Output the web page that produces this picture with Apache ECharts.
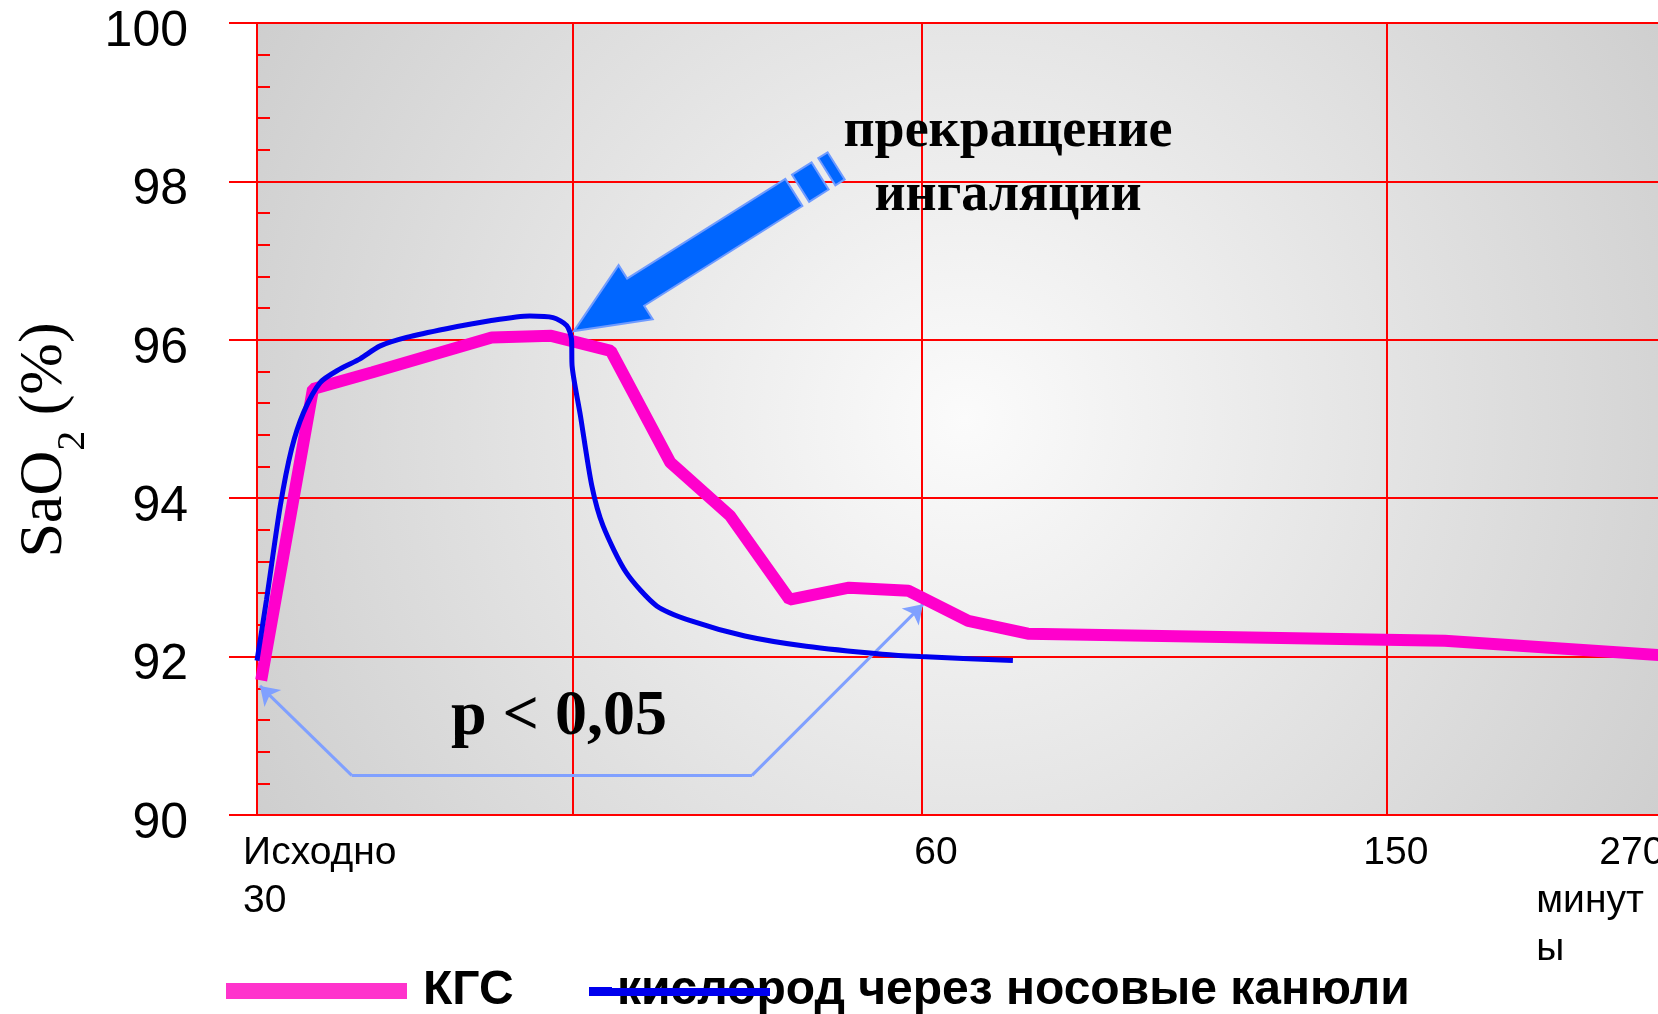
<!DOCTYPE html>
<html>
<head>
<meta charset="utf-8">
<title>SaO2</title>
<script src="https://cdn.jsdelivr.net/npm/echarts@6/dist/echarts.min.js"></script>
<style>
  html, body { margin: 0; padding: 0; background: #fff; }
  #chart { width: 1658px; height: 1014px; }
</style>
</head>
<body>
<div id="chart"></div>
<script>
// y scale
const yMin = 90
const yMax = 100
const yStep = 2
// x is just the step position along the slide axis
const xMin = 0.06
const xMax = 23.58
const gridLineX = [5.36, 11.22, 19.03]
const xLabelPos = [1.17, 11.46, 19.18, 22.88]
const xLabelText = ['Исходно\n30', '60', '150', '270\nминут\nы']

// КГС
const kgsX = [0.13, 1, 2, 4, 5, 6, 7, 8, 9, 10, 11, 12, 13, 20, 24]
const kgsY = [91.7, 95.38, 95.59, 96.03, 96.05, 95.86, 94.45, 93.78, 92.72, 92.87, 92.83, 92.45, 92.29, 92.2, 92.0]

// кислород через носовые канюли
const o2X = [0.06, 0.22, 0.45, 0.64, 0.84, 1.12, 1.45, 1.79, 2.12, 2.57, 3.24, 3.97, 4.64, 5.03, 5.26, 5.34, 5.35, 5.49, 5.68, 5.87, 6.26, 6.77, 7.35, 8.25, 9.28, 10.56, 11.2, 12.75]
const o2Y = [91.95, 92.72, 93.9, 94.62, 95.08, 95.46, 95.63, 95.76, 95.92, 96.03, 96.14, 96.24, 96.3, 96.28, 96.18, 96.01, 95.67, 95.04, 94.16, 93.65, 93.06, 92.64, 92.45, 92.26, 92.13, 92.03, 92.0, 91.95]

// p < 0,05 connector
const pathX = [0.11, 1.65, 8.37, 11.24]
const pathY = [91.63, 90.5, 90.5, 92.66]
const arrowTip = [5.38, 96.11]

const red = '#ff0000'
const sans = 'Liberation Sans, Arial, sans-serif'
const serif = 'Liberation Serif, Times New Roman, serif'

const pairs = (xs, ys) => xs.map((x, i) => [x, ys[i]])

// multi-line labels: lines left aligned inside a fixed-width box,
// the "270" line of the last label sits a bit to the right
const xLabelFormat = (v) => {
  const i = xLabelPos.findIndex((p) => Math.abs(p - v) < 1e-6)
  if (i < 0) return ''
  const t = xLabelText[i]
  if (t.indexOf('\n') < 0) return t
  return t.split('\n').map((l, k) => {
    const style = (i === xLabelText.length - 1 && k === 0) ? 'f' : 't'
    return `{${style}|${l}}`
  }).join('\n')
}

const option = {
  animation: false,
  grid: {
    left: 257,
    top: 23,
    right: 0,
    bottom: 199,
    outerBoundsMode: 'none',
    containLabel: false,
    show: true,
    borderWidth: 0,
    backgroundColor: {
      type: 'radial', x: 0.505, y: 0.5, r: 1.1,
      colorStops: [
        { offset: 0, color: '#fbfbfb' },
        { offset: 1, color: '#cbcbcb' },
      ],
    },
  },
  legend: [
    {
      data: ['КГС'],
      left: 226,
      top: 965,
      padding: 0,
      selectedMode: false,
      icon: 'rect',
      itemWidth: 181,
      itemHeight: 16,
      itemStyle: { color: '#ff33cc' },
      textStyle: { fontFamily: sans, fontWeight: 'bold', fontSize: 48, lineHeight: 52, color: '#000', padding: [0, 0, 0, 11] },
    },
    {
      data: ['кислород через носовые канюли'],
      left: 589,
      top: 965,
      padding: 0,
      selectedMode: false,
      icon: 'rect',
      itemWidth: 23,
      itemHeight: 8,
      itemStyle: { color: '#0000ee' },
      textStyle: { fontFamily: sans, fontWeight: 'bold', fontSize: 48, lineHeight: 52, color: '#000' },
    },
  ],
  xAxis: {
    type: 'value',
    min: xMin,
    max: xMax,
    axisLine: { lineStyle: { color: red, width: 2 } },
    axisTick: { show: false },
    splitLine: { show: false },
    axisLabel: {
      customValues: xLabelPos,
      formatter: xLabelFormat,
      hideOverlap: false,
      showMinLabel: true,
      showMaxLabel: true,
      fontFamily: sans,
      fontSize: 39,
      lineHeight: 48,
      margin: 14,
      color: '#000',
      rich: {
        t: { fontFamily: sans, fontSize: 39, lineHeight: 48, width: 160, align: 'left', color: '#000' },
        f: { fontFamily: sans, fontSize: 39, lineHeight: 48, width: 97, padding: [0, 0, 0, 63], align: 'left', color: '#000' },
      },
    },
  },
  yAxis: [
    {
      type: 'value',
      min: yMin,
      max: yMax,
      interval: yStep,
      name: '{a|SaO}{b|2}{a| (%)}',
      nameLocation: 'middle',
      nameRotate: 90,
      nameGap: 165,
      nameTextStyle: {
        padding: [0, 42, 0, 0],
        rich: {
          a: { fontFamily: serif, fontSize: 62, lineHeight: 62, verticalAlign: 'top', color: '#000' },
          b: { fontFamily: serif, fontSize: 40, lineHeight: 40, verticalAlign: 'top', padding: [40, 0, 0, 0], color: '#000' },
        },
      },
      axisLine: { show: true, lineStyle: { color: red, width: 2 } },
      axisTick: { show: true, inside: false, length: 28, lineStyle: { color: red, width: 2 } },
      axisLabel: {
        margin: 69,
        formatter: (v) => `{v|${v}}`,
        rich: {
          v: { fontFamily: sans, fontSize: 50, color: '#000', padding: [18, 0, 0, 0] },
        },
      },
      splitLine: { show: true, lineStyle: { color: red, width: 2 } },
    },
    {
      // inner ticks (major + minor)
      type: 'value',
      min: yMin,
      max: yMax,
      interval: yStep,
      position: 'left',
      axisLine: { show: false },
      axisLabel: { show: false },
      splitLine: { show: false },
      axisTick: { show: true, inside: true, length: 26, lineStyle: { color: red, width: 2 } },
      minorTick: { show: true, splitNumber: 5, length: 13, lineStyle: { color: red, width: 2 } },
    },
  ],
  series: [
    {
      name: 'grid',
      type: 'line',
      data: [],
      silent: true,
      markLine: {
        silent: true,
        z: 1,
        symbol: 'none',
        label: { show: false },
        lineStyle: { color: red, width: 2, type: 'solid' },
        data: gridLineX.map((v) => ({ xAxis: v })),
      },
    },
    {
      name: 'p',
      type: 'line',
      data: [],
      silent: true,
      markLine: {
        silent: true,
        z: 3,
        symbol: ['none', 'arrow'],
        symbolSize: 18,
        label: { show: false },
        lineStyle: { color: '#80a0ff', width: 3, type: 'solid' },
        data: [
          [{ coord: [pathX[1], pathY[1]] }, { coord: [pathX[0], pathY[0]] }],
          [{ coord: [pathX[1], pathY[1]], symbol: 'none' }, { coord: [pathX[2], pathY[2]], symbol: 'none' }],
          [{ coord: [pathX[2], pathY[2]] }, { coord: [pathX[3], pathY[3]] }],
        ],
      },
    },
    {
      name: 'КГС',
      type: 'line',
      z: 6,
      data: pairs(kgsX, kgsY),
      showSymbol: false,
      lineStyle: { color: '#ff00cc', width: 12 },
      itemStyle: { color: '#ff00cc' },
    },
    {
      name: 'кислород через носовые канюли',
      type: 'line',
      z: 7,
      data: pairs(o2X, o2Y),
      showSymbol: false,
      smooth: 0.25,
      lineStyle: { color: '#0000ee', width: 5 },
      itemStyle: { color: '#0000ee' },
    },
  ],
}

const chart = echarts.init(document.getElementById('chart'))
chart.setOption(option)

// block arrow pointing at the moment inhalation stops
const tip = chart.convertToPixel({ gridIndex: 0 }, arrowTip)
const u = [0.846, -0.533]
const n = [0.533, 0.846]
const P = (a, p) => [tip[0] + a * u[0] + p * n[0], tip[1] + a * u[1] + p * n[1]]
const arrowStyle = { fill: '#0066ff', stroke: '#6f9bff', lineWidth: 2 }

chart.setOption({
  graphic: [
    {
      type: 'polygon', z: 50,
      shape: { points: [P(0, 0), P(73, -32), P(73, -16), P(260, -16), P(260, 16), P(73, 16), P(73, 32)] },
      style: arrowStyle,
    },
    {
      type: 'polygon', z: 50,
      shape: { points: [P(268, -16), P(291, -16), P(291, 16), P(268, 16)] },
      style: arrowStyle,
    },
    {
      type: 'polygon', z: 50,
      shape: { points: [P(299, -16), P(310, -16), P(310, 16), P(299, 16)] },
      style: arrowStyle,
    },
    {
      type: 'text', z: 60, x: 1008, y: 164,
      style: {
        text: 'прекращение\nингаляции',
        fontFamily: serif, fontWeight: 'bold', fontSize: 54, lineHeight: 64,
        fill: '#000', align: 'center', verticalAlign: 'middle',
      },
    },
    {
      type: 'text', z: 60, x: 559, y: 717,
      style: {
        text: 'p < 0,05',
        fontFamily: serif, fontWeight: 'bold', fontSize: 64,
        fill: '#000', align: 'center', verticalAlign: 'middle',
      },
    },
    {
      // legend line of the second series runs over its text
      type: 'rect', z: 100,
      shape: { x: 589, y: 988, width: 181, height: 8 },
      style: { fill: '#0000ee' },
    },
  ],
})

window.addEventListener('resize', () => chart.resize())
</script>
</body>
</html>
